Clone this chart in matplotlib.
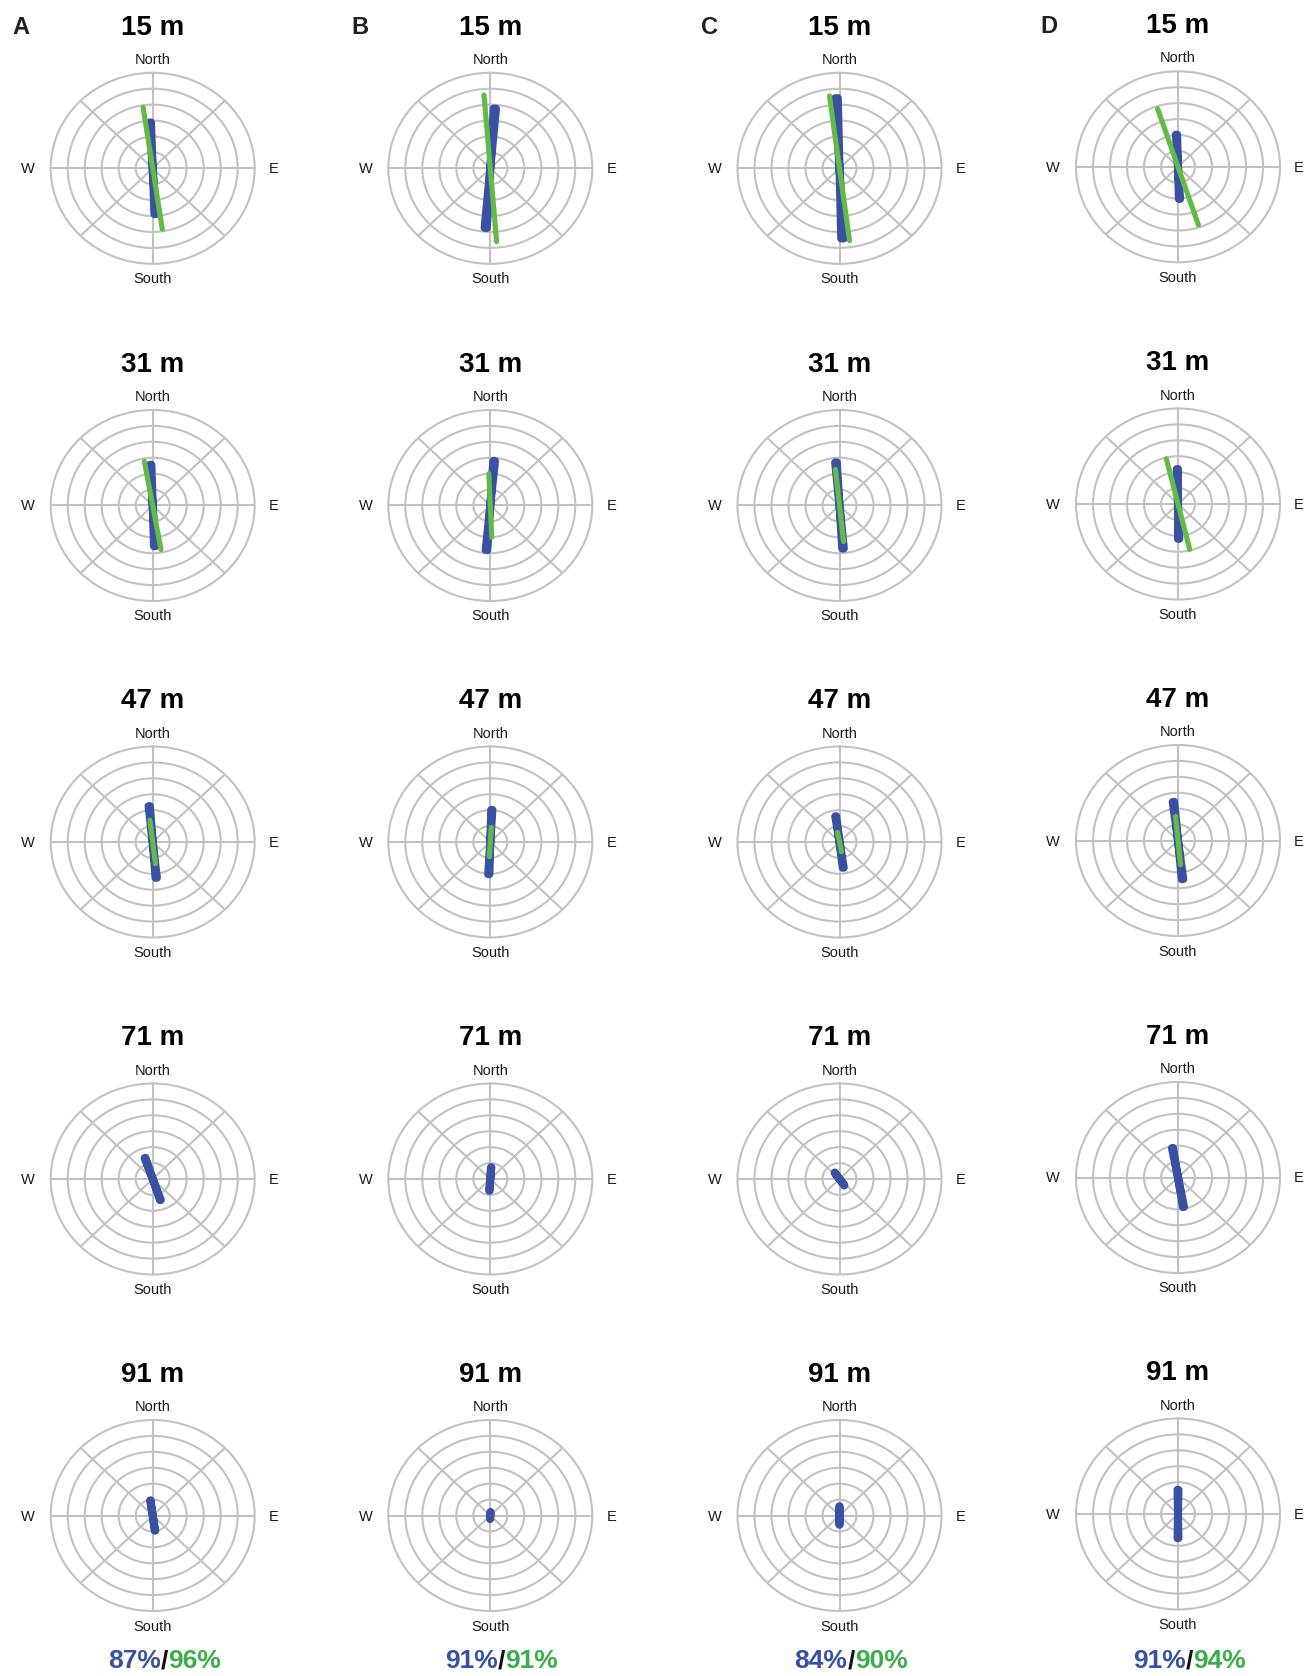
import numpy as np
import matplotlib
matplotlib.use("Agg")
import matplotlib.pyplot as plt

plt.rcParams['font.family'] = ['Liberation Sans', 'DejaVu Sans']

panels = ['A', 'B', 'C', 'D']
depths = ['15 m', '31 m', '47 m', '71 m', '91 m']

# axis direction (deg clockwise from north) and half-length (ring units), one list per panel
blue_dir = [[-3.0, -2.7, -5.2, -18.9, -8.0],
            [4.1, 4.6, 2.5, 4.0, 3.0],
            [-2.3, -4.4, -7.8, -35.0, 0.0],
            [-2.5, -1.0, -6.3, -9.9, 0.0]]
blue_len = [[2.88, 2.56, 2.26, 1.40, 0.96],
            [3.76, 2.81, 2.02, 0.74, 0.22],
            [4.41, 2.71, 1.63, 0.49, 0.58],
            [2.02, 2.19, 2.44, 1.88, 1.52]]
green_dir = [[-8.4, -10.0, -6.8],
             [-4.6, -2.5, 3.6],
             [-7.4, -6.0, -11.0],
             [-18.2, -13.6, -5.5]]
green_len = [[3.87, 2.81, 1.38],
             [4.62, 2.00, 0.92],
             [4.58, 2.28, 0.62],
             [3.84, 2.93, 1.53]]
pct_blue = ['87%', '91%', '84%', '91%']
pct_green = ['96%', '91%', '90%', '94%']

BLUE = '#3a51a3'
GREEN = '#62bb46'
GREEN_TXT = '#3cae49'
GRID = '#c2c2c2'

W, H = 1314, 1676
fig = plt.figure(figsize=(W / 100, H / 100), dpi=100)

col_x = [152.7, 490.3, 839.5, 1178.0]
row_y = [168.3, 505.5, 842.0, 1179.0, 1515.5]
col_dy = [0, 0, 0, -1.5]
rx, ry = 102.0, 95.5
letter_x = [20.5, 360.0, 710.0, 1049.0]

half = np.radians(1.0)

for c in range(4):
    fig.text(letter_x[c] / W, 1 - (34.5 + col_dy[c]) / H, panels[c],
             fontsize=17, fontweight='bold', color='#231f20',
             ha='center', va='baseline')
    for r in range(5):
        cx, cy = col_x[c], row_y[r] + col_dy[c]
        ax = fig.add_axes([(cx - rx) / W, 1 - (cy + ry) / H, 2 * rx / W, 2 * ry / H],
                          projection='polar')
        ax.set_aspect('auto')
        ax.set_theta_zero_location('N')
        ax.set_theta_direction(-1)
        ax.set_ylim(0, 6)
        ax.set_yticks([1, 2, 3, 4, 5])
        ax.set_yticklabels([])
        ax.set_xticks(np.radians(np.arange(0, 360, 45)))
        ax.set_xticklabels([])
        ax.tick_params(length=0)
        ax.grid(True, color=GRID, linewidth=1.5)
        ax.spines['polar'].set_color(GRID)
        ax.spines['polar'].set_linewidth(1.5)

        # blue axis: narrow bow-tie through the centre
        t = np.radians(blue_dir[c][r])
        L = blue_len[c][r]
        th = [t - half, t + half, t, t + np.pi - half, t + np.pi + half, t]
        rr = [L, L, 0, L, L, 0]
        ax.fill(th, rr, facecolor=BLUE, edgecolor=BLUE, linewidth=5.8,
                joinstyle='round', zorder=3)

        if r < 3:
            tg = np.radians(green_dir[c][r])
            Lg = green_len[c][r]
            ax.plot([tg, tg, tg + np.pi], [Lg, 0, Lg], color=GREEN,
                    linewidth=3.7, solid_capstyle='round', zorder=4)

        ax.text(0.5, 0.5 + 133.6 / (2 * ry), depths[r], transform=ax.transAxes,
                fontsize=20, fontweight='bold', ha='center', va='baseline')
        kw = dict(transform=ax.transAxes, fontsize=10.5, color='#1a1a1a', va='baseline')
        ax.text(0.5, 0.5 + 104.3 / (2 * ry), 'North', ha='center', **kw)
        ax.text(0.5, 0.5 - 115.0 / (2 * ry), 'South', ha='center', **kw)
        ax.text(0.5 - 124.7 / (2 * rx), 0.5 - 5.0 / (2 * ry), 'W', ha='center', **kw)
        ax.text(0.5 + 121.0 / (2 * rx), 0.5 - 5.0 / (2 * ry), 'E', ha='center', **kw)

    # agreement percentages under each column
    slash = fig.text((col_x[c] + 11.5) / W, 1 - 1668.3 / H, '/', fontsize=19,
                     fontweight='bold', color='#111111', ha='center', va='baseline')
    ax.annotate(pct_blue[c], xy=(0, 0), xycoords=slash, fontsize=19,
                fontweight='bold', color=BLUE, ha='right', va='bottom',
                annotation_clip=False)
    ax.annotate(pct_green[c], xy=(1, 0), xycoords=slash, fontsize=19,
                fontweight='bold', color=GREEN_TXT, ha='left', va='bottom',
                annotation_clip=False)

fig.savefig('out.png', dpi=100, facecolor='white')
